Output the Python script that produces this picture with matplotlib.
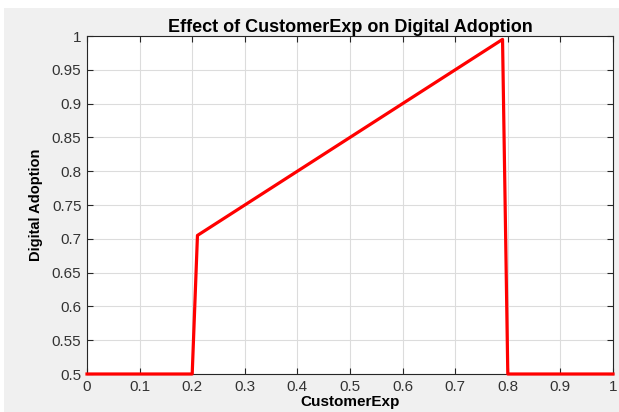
import numpy as np
import matplotlib.pyplot as plt
from matplotlib.patches import Rectangle

# piecewise response of adoption to customer experience
customer_exp = [0.0, 0.2, 0.21, 0.79, 0.8, 1.0]
adoption = [0.5, 0.5, 0.705, 0.995, 0.5, 0.5]

xticks = np.round(np.arange(0, 1.01, 0.1), 1)
yticks = np.round(np.arange(0.5, 1.001, 0.05), 2)

plt.rcParams['font.family'] = ['Liberation Sans', 'DejaVu Sans']

fig = plt.figure(figsize=(6.19, 4.12), dpi=100, facecolor='#f0f0f0')
# white strips along the top and left edge of the window
fig.patches.append(Rectangle((0, 404 / 412), 1, 8 / 412, transform=fig.transFigure,
                             facecolor='white', edgecolor='none', zorder=0))
fig.patches.append(Rectangle((0, 0), 4 / 619, 1, transform=fig.transFigure,
                             facecolor='white', edgecolor='none', zorder=0))

ax = fig.add_axes([87 / 619, 38 / 412, 526 / 619, 338 / 412])
ax.plot(customer_exp, adoption, color='red', linewidth=2.3, clip_on=False, zorder=3)

ax.set_xlim(0, 1)
ax.set_ylim(0.5, 1)
ax.set_xticks(xticks)
ax.set_xticklabels([('%g' % t) for t in xticks])
ax.set_yticks(yticks)
ax.set_yticklabels([('%g' % t) for t in yticks])

ax.grid(True, color='#dcdcdc', linewidth=0.8)
ax.set_axisbelow(True)
ax.tick_params(direction='in', top=True, right=True, length=4, width=0.8,
               colors='#262626', labelsize=11, pad=4)
ax.tick_params(labelcolor='#333333')
for s in ax.spines.values():
    s.set_color('#262626')
    s.set_linewidth(0.8)

ax.set_title('Effect of CustomerExp on Digital Adoption', fontsize=13,
             fontweight='bold', pad=3)
ax.set_xlabel('CustomerExp', fontsize=11, fontweight='bold', labelpad=1)
ax.set_ylabel('Digital Adoption', fontsize=10.5, fontweight='bold', labelpad=6)

fig.savefig('out.png', dpi=100, facecolor=fig.get_facecolor())
